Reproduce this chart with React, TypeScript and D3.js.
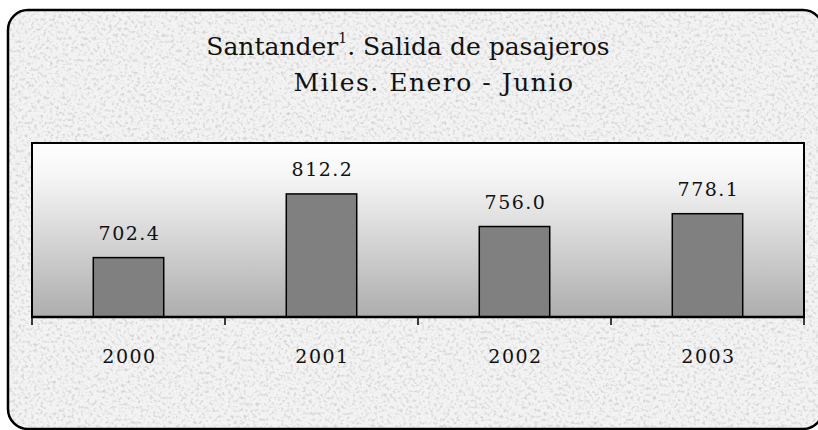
import React from 'react';
import * as d3 from 'd3';

const years = ['2000', '2001', '2002', '2003'];
const pasajeros = [702.4, 812.2, 756.0, 778.1];
const titleLines = ['Santander', 'Miles. Enero - Junio'];

const W = 818;
const H = 430;
const plot = { left: 32, right: 804, top: 143, bottom: 317 };

export default function App() {
  const x = d3.scaleBand<string>().domain(years).range([plot.left, plot.right]).padding(0);
  const y = d3.scaleLinear().domain([600, 900]).range([plot.bottom, plot.top]);
  const barW = x.bandwidth() * 0.365;
  const tickXs = years.map((yr) => x(yr) as number).concat([plot.right]);
  const font = '"DejaVu Serif", serif';

  return (
    <svg width={W} height={H} style={{ position: 'absolute', left: 0, top: 0 }}>
      <defs>
        <filter id="granite" x="0" y="0" width="100%" height="100%">
          <feTurbulence type="fractalNoise" baseFrequency="0.32" numOctaves={3} seed={7} result="n" />
          <feColorMatrix
            in="n"
            type="matrix"
            values="0 0 0 0 0.62  0 0 0 0 0.62  0 0 0 0 0.62  -2.6 0 0 0 1.35"
          />
        </filter>
        <linearGradient id="plotGrad" x1="0" y1="0" x2="0" y2="1">
          <stop offset="0" stopColor="#ffffff" />
          <stop offset="0.2" stopColor="#f5f5f5" />
          <stop offset="1" stopColor="#adadad" />
        </linearGradient>
        <clipPath id="outerClip">
          <rect x={8} y={10} width={815} height={419} rx={20} />
        </clipPath>
      </defs>

      <g clipPath="url(#outerClip)">
        <rect x={8} y={10} width={815} height={419} fill="#f3f3f3" />
        <rect x={8} y={10} width={815} height={419} filter="url(#granite)" />
      </g>
      <rect x={8} y={10} width={815} height={419} rx={20} fill="none" stroke="#000" strokeWidth={2.5} />

      <text x={408} y={55} textAnchor="middle" fontFamily={font} fontSize={25} fill="#111">
        {titleLines[0]}
        <tspan fontSize={14} dy={-12}>1</tspan>
        <tspan dy={12}>. Salida de pasajeros</tspan>
      </text>
      <text x={434} y={91} textAnchor="middle" fontFamily={font} fontSize={25} letterSpacing={1.5} fill="#111">
        {titleLines[1]}
      </text>

      <rect
        x={plot.left}
        y={plot.top}
        width={plot.right - plot.left}
        height={plot.bottom - plot.top}
        fill="url(#plotGrad)"
        stroke="#000"
        strokeWidth={2}
      />

      {years.map((yr, i) => {
        const cx = (x(yr) as number) + x.bandwidth() / 2;
        const top = y(pasajeros[i]);
        return (
          <g key={yr}>
            <rect
              x={cx - barW / 2}
              y={top}
              width={barW}
              height={plot.bottom - top}
              fill="#808080"
              stroke="#000"
              strokeWidth={1.5}
            />
            <text
              x={cx + 1}
              y={top - 18}
              textAnchor="middle"
              fontFamily={font}
              fontSize={19}
              letterSpacing={1.5}
              fill="#111"
            >
              {pasajeros[i].toFixed(1)}
            </text>
            <text
              x={cx + 1}
              y={363}
              textAnchor="middle"
              fontFamily={font}
              fontSize={19}
              letterSpacing={1.5}
              fill="#111"
            >
              {yr}
            </text>
          </g>
        );
      })}

      <line x1={plot.left - 1} x2={plot.right + 1} y1={plot.bottom} y2={plot.bottom} stroke="#000" strokeWidth={2.5} />
      {tickXs.map((tx, i) => (
        <line key={i} x1={tx} x2={tx} y1={plot.bottom} y2={plot.bottom + 8} stroke="#000" strokeWidth={1.5} />
      ))}
    </svg>
  );
}
